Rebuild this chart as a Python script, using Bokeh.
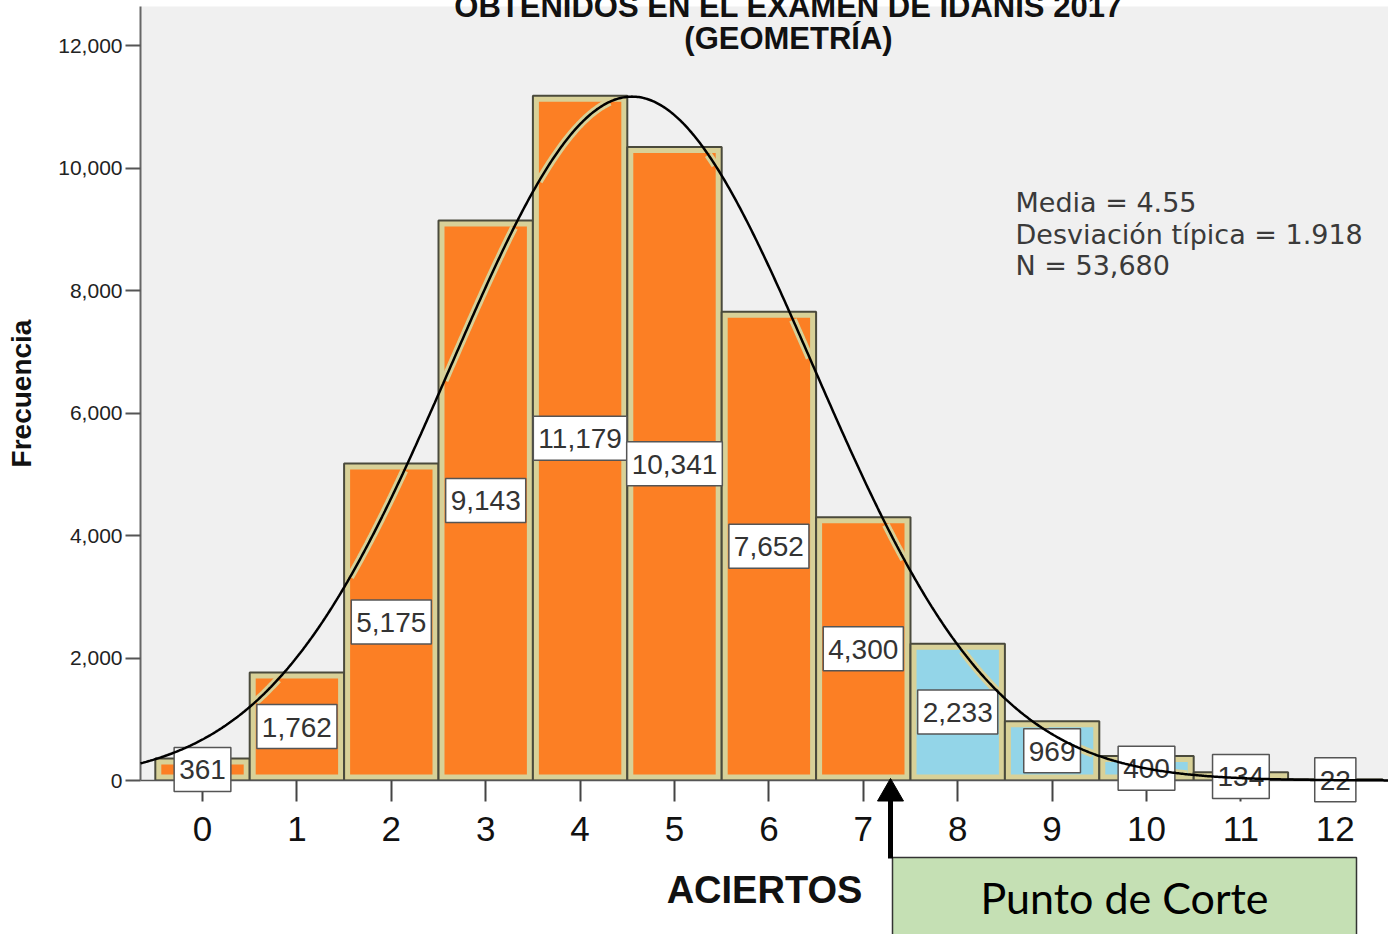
import numpy as np
from bokeh.plotting import figure
from bokeh.models import Label, NumeralTickFormatter, FixedTicker, Range1d
from bokeh.core.properties import value
from bokeh.embed import file_html
from bokeh.resources import INLINE

# ---------------- data ----------------
aciertos = list(range(13))
frecuencia = [361, 1762, 5175, 9143, 11179, 10341, 7652, 4300, 2233, 969, 400, 134, 22]
etiquetas = [f"{v:,}" for v in frecuencia]
colores = ["#fc7f24"] * 8 + ["#93d5e8"] * 5
y_ticks = [0, 2000, 4000, 6000, 8000, 10000, 12000]
x_ticks = list(range(13))
media = 4.55
desviacion = 1.918
n_total = 53680
titulo1 = "OBTENIDOS EN EL EXAMEN DE IDANIS 2017"
titulo2 = "(GEOMETRÍA)"
estadisticos = ["Media = 4.55", "Desviación típica = 1.918", "N = 53,680"]
punto_corte = "Punto de Corte"

# ---------------- layout helpers (reference pixel -> data) ----------------
X0PX, XPX = 202.0, 94.4       # px of x=0, px per unit
Y0PX, YPX = 780.0, 0.06125    # px of y=0, px per unit


def dx(sx):
    return (sx - X0PX) / XPX


def dy(sy):
    return (Y0PX - sy) / YPX


p = figure(width=1388, height=934, output_backend="svg", toolbar_location=None,
           title=None,
           x_range=Range1d(dx(140), dx(1388)), y_range=Range1d(0, dy(6)),
           min_border_left=140, min_border_right=0, min_border_top=6,
           min_border_bottom=154)
p.background_fill_color = "#f0f0f0"
p.border_fill_color = "white"
p.outline_line_color = None
p.xgrid.visible = False
p.ygrid.visible = False

FONT = "Liberation Sans"

# y axis
p.yaxis.ticker = FixedTicker(ticks=y_ticks)
p.yaxis.formatter = NumeralTickFormatter(format="0,0")
p.yaxis.major_label_text_font = FONT
p.yaxis.major_label_text_font_size = "21px"
p.yaxis.major_label_text_color = "#222222"
p.yaxis.major_label_standoff = 3
p.yaxis.major_tick_out = 15
p.yaxis.major_tick_in = 0
p.yaxis.major_tick_line_width = 2
p.yaxis.major_tick_line_color = "#555555"
p.yaxis.minor_tick_line_color = None
p.yaxis.axis_line_width = 2
p.yaxis.axis_line_color = "#666666"
p.yaxis.axis_label = "Frecuencia"
p.yaxis.axis_label_text_font = FONT
p.yaxis.axis_label_text_font_size = "28px"
p.yaxis.axis_label_text_font_style = "bold"
p.yaxis.axis_label_text_color = "#111111"
p.yaxis.axis_label_standoff = 18

# x axis
p.xaxis.ticker = FixedTicker(ticks=x_ticks)
p.xaxis.major_label_text_font = FONT
p.xaxis.major_label_text_font_size = "35px"
p.xaxis.major_label_text_color = "#111111"
p.xaxis.major_label_standoff = 15
p.xaxis.major_tick_out = 21
p.xaxis.major_tick_in = 0
p.xaxis.major_tick_line_width = 2
p.xaxis.major_tick_line_color = "#444444"
p.xaxis.minor_tick_line_color = None
p.xaxis.axis_line_width = 1.5
p.xaxis.axis_line_color = "#555555"
p.xaxis.axis_label = "ACIERTOS"
p.xaxis.axis_label_text_font = FONT
p.xaxis.axis_label_text_font_size = "38px"
p.xaxis.axis_label_text_font_style = "bold"
p.xaxis.axis_label_text_color = "#111111"
p.xaxis.axis_label_standoff = 25

# bars: outer tan frame + inset coloured fill
ix = 6 / XPX
iy = 6 / YPX
xs = np.array(aciertos, dtype=float)
vals = np.array(frecuencia, dtype=float)
p.quad(left=xs - 0.5, right=xs + 0.5, bottom=0, top=vals,
       fill_color="#d8d198", line_color="#4a4a3c", line_width=2)
inner_top = np.maximum(vals - iy, iy)
p.quad(left=xs - 0.5 + ix, right=xs + 0.5 - ix, bottom=iy, top=inner_top,
       fill_color=colores, line_color=None)

# normal curve (from the stated mean, sd and N, bin width 1)
cx = np.linspace(dx(140), dx(1388), 900)
cy = n_total / (desviacion * np.sqrt(2 * np.pi)) * np.exp(-((cx - media) ** 2) / (2 * desviacion ** 2))

# tan halo of the curve where it crosses a bar
k_idx = np.clip(np.round(cx).astype(int), 0, len(vals) - 1)
inside = (np.abs(cx - k_idx) < 0.5 - ix) & (cy < vals[k_idx] - iy) & (cx > -0.5)
halo_y = np.where(inside, cy, np.nan)
p.line(cx, halo_y, line_color="#d8d198", line_width=8)

# value labels (boxed), not clipped by the frame
p.text(x=xs, y=vals / 2, text=etiquetas, text_align="center", text_baseline="middle",
       text_font=value(FONT), text_font_size="28px", text_color="#333333",
       background_fill_color="white", border_line_color="#555555", border_line_width=1.5,
       padding=dict(left=5, right=5, top=13, bottom=12), level="overlay")

p.line(cx, cy, line_color="black", line_width=2.5, level="overlay")

# title (cut off at the top like the reference)
p.text(x=[dx(788), dx(788)], y=[dy(6), dy(38)], text=[titulo1, titulo2],
       text_align="center", text_baseline="middle", text_font=value(FONT),
       text_font_size="31px", text_font_style="bold", text_color="#111111", level="overlay")

# statistics
for i, s in enumerate(estadisticos):
    p.add_layout(Label(x=dx(1015), y=dy(202 + 31.5 * i), text=s, text_align="left",
                       text_baseline="middle", text_font="DejaVu Sans", text_font_size="27px",
                       text_color="#3a3a3a"))

# cut-point box and arrow
p.quad(left=[dx(892)], right=[dx(1356)], top=[dy(857)], bottom=[dy(945)],
       fill_color="#c5e0b4", line_color="#333333", line_width=1.5, level="overlay")
p.text(x=[dx(1124)], y=[dy(897)], text=[punto_corte], text_align="center",
       text_baseline="middle", text_font=value("Lato"), text_font_size="43px",
       text_color="black", level="overlay")
p.segment(x0=[dx(890)], y0=[dy(858)], x1=[dx(890)], y1=[dy(800)],
          line_color="black", line_width=5, level="overlay")
p.scatter(x=[dx(890)], y=[dy(793)], marker="triangle", size=26,
          fill_color="black", line_color="black", level="overlay")

open("out.html", "w").write(file_html(p, INLINE))
